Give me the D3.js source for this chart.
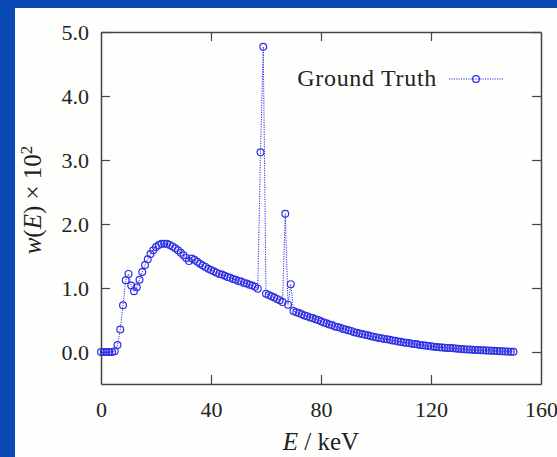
<!DOCTYPE html>
<html><head><meta charset="utf-8">
<script src="https://cdn.jsdelivr.net/npm/d3@7"></script>
<style>
html,body{margin:0;padding:0;background:#0a49b5;}
svg{display:block;}
</style></head>
<body>
<script>
// Energy grid (keV)
const energies = d3.range(0, 151, 1);
// w(E) x 10^2, Ground Truth
const groundTruth = [
  0, 0, 0, 0, 0, 0.01, 0.11, 0.35, 0.73, 1.12,
  1.22, 1.04, 0.95, 1.01, 1.13, 1.25, 1.36, 1.45, 1.53, 1.59,
  1.64, 1.67, 1.69, 1.69, 1.69, 1.67, 1.65, 1.62, 1.59, 1.55,
  1.51, 1.47, 1.42, 1.46, 1.44, 1.41, 1.38, 1.35, 1.33, 1.30,
  1.28, 1.26, 1.24, 1.22, 1.21, 1.19, 1.17, 1.16, 1.14, 1.13,
  1.11, 1.10, 1.08, 1.07, 1.05, 1.04, 1.02, 0.99, 3.12, 4.77,
  0.91, 0.89, 0.87, 0.85, 0.83, 0.81, 0.78, 2.16, 0.74, 1.06,
  0.64, 0.62, 0.61, 0.59, 0.57, 0.56, 0.54, 0.53, 0.51, 0.50,
  0.48, 0.46, 0.45, 0.43, 0.42, 0.40, 0.39, 0.38, 0.36, 0.35,
  0.34, 0.33, 0.31, 0.30, 0.29, 0.28, 0.27, 0.26, 0.25, 0.24,
  0.23, 0.22, 0.215, 0.205, 0.20, 0.19, 0.18, 0.175, 0.165, 0.16,
  0.15, 0.145, 0.14, 0.13, 0.125, 0.12, 0.11, 0.105, 0.10, 0.095,
  0.088, 0.083, 0.079, 0.075, 0.071, 0.068, 0.064, 0.061, 0.057, 0.054,
  0.050, 0.047, 0.044, 0.041, 0.038, 0.036, 0.033, 0.031, 0.029, 0.026,
  0.024, 0.022, 0.020, 0.018, 0.016, 0.013, 0.011, 0.009, 0.007, 0.004,
  0.002
];
const xTicks = [0, 40, 80, 120, 160];
const yTicks = [0, 1, 2, 3, 4, 5];
const seriesName = "Ground Truth";

(function () {
const W = 557, H = 457;
const mL = 101, mR = 541, mT = 32, mB = 384;
const col = "#2f2fe4";
const font = "'Liberation Serif', 'DejaVu Serif', serif";

const svg = d3.select("body").append("svg").attr("width", W).attr("height", H);
svg.append("rect").attr("x", 0).attr("y", 0).attr("width", W).attr("height", H).attr("fill", "#0a49b5");
svg.append("rect").attr("x", 15).attr("y", 8).attr("width", W - 15).attr("height", H - 8).attr("fill", "#fefffc");

const x = d3.scaleLinear().domain([0, 160]).range([mL, mR]);
const y = d3.scaleLinear().domain([-0.5, 5.0]).range([mB, mT]);

const tickLen = 9;
const axisColor = "#444";

const gB = svg.append("g").attr("transform", `translate(0,${mB})`)
  .call(d3.axisBottom(x).tickValues(xTicks).tickFormat(d3.format("d")).tickSizeInner(-tickLen).tickSizeOuter(0).tickPadding(17));
const gT = svg.append("g").attr("transform", `translate(0,${mT})`)
  .call(d3.axisTop(x).tickValues(xTicks).tickFormat("").tickSizeInner(-tickLen).tickSizeOuter(0));
const gL = svg.append("g").attr("transform", `translate(${mL},0)`)
  .call(d3.axisLeft(y).tickValues(yTicks).tickFormat(d3.format(".1f")).tickSizeInner(-tickLen).tickSizeOuter(0).tickPadding(12));
const gR = svg.append("g").attr("transform", `translate(${mR},0)`)
  .call(d3.axisRight(y).tickValues(yTicks).tickFormat("").tickSizeInner(-tickLen).tickSizeOuter(0));

[gB, gT, gL, gR].forEach(g => {
  g.attr("font-family", null);
  g.select(".domain").attr("stroke", axisColor).attr("stroke-width", 1.5);
  g.selectAll(".tick line").attr("stroke", axisColor).attr("stroke-width", 1.2);
  g.selectAll(".tick text").attr("fill", "#222").style("font-family", font).style("font-size", "22px");
});
gB.selectAll(".tick").filter(d => d === 0 || d === 160).select("line").remove();
gT.selectAll(".tick").filter(d => d === 0 || d === 160).select("line").remove();
gL.selectAll(".tick text").attr("dy", "0.35em");

const pts = energies.map((e, i) => ({e, v: groundTruth[i]}));
const line = d3.line().x(d => x(d.e)).y(d => y(d.v));
svg.append("path").datum(pts).attr("d", line)
  .attr("fill", "none").attr("stroke", col).attr("stroke-width", 1).attr("stroke-dasharray", "1.2,1.2");
svg.append("g").selectAll("circle").data(pts).join("circle")
  .attr("cx", d => x(d.e)).attr("cy", d => y(d.v)).attr("r", 3.4)
  .attr("fill", "none").attr("stroke", col).attr("stroke-width", 1.2);

const lg = svg.append("g");
lg.append("text").attr("x", 437).attr("y", 86).attr("text-anchor", "end")
  .style("font-family", font).style("font-size", "24px").style("letter-spacing", "0.7px")
  .attr("fill", "#222").text(seriesName);
lg.append("line").attr("x1", 449).attr("x2", 503).attr("y1", 79).attr("y2", 79)
  .attr("stroke", col).attr("stroke-width", 1).attr("stroke-dasharray", "1.2,1.2");
lg.append("circle").attr("cx", 476).attr("cy", 79).attr("r", 3.4)
  .attr("fill", "none").attr("stroke", col).attr("stroke-width", 1.2);

const xt = svg.append("text").attr("x", (mL + mR) / 2).attr("y", 450).attr("text-anchor", "middle")
  .style("font-family", font).style("font-size", "25px").attr("fill", "#222");
xt.append("tspan").style("font-style", "italic").text("E");
xt.append("tspan").text(" / keV");

const yt = svg.append("text").attr("transform", `translate(41,200) rotate(-90)`).attr("text-anchor", "middle")
  .style("font-family", font).style("font-size", "25px").attr("fill", "#222");
yt.append("tspan").style("font-style", "italic").text("w");
yt.append("tspan").text("(");
yt.append("tspan").style("font-style", "italic").text("E");
yt.append("tspan").text(") × 10");
yt.append("tspan").attr("dy", -9).style("font-size", "17px").text("2");
})();
</script>
</body></html>
